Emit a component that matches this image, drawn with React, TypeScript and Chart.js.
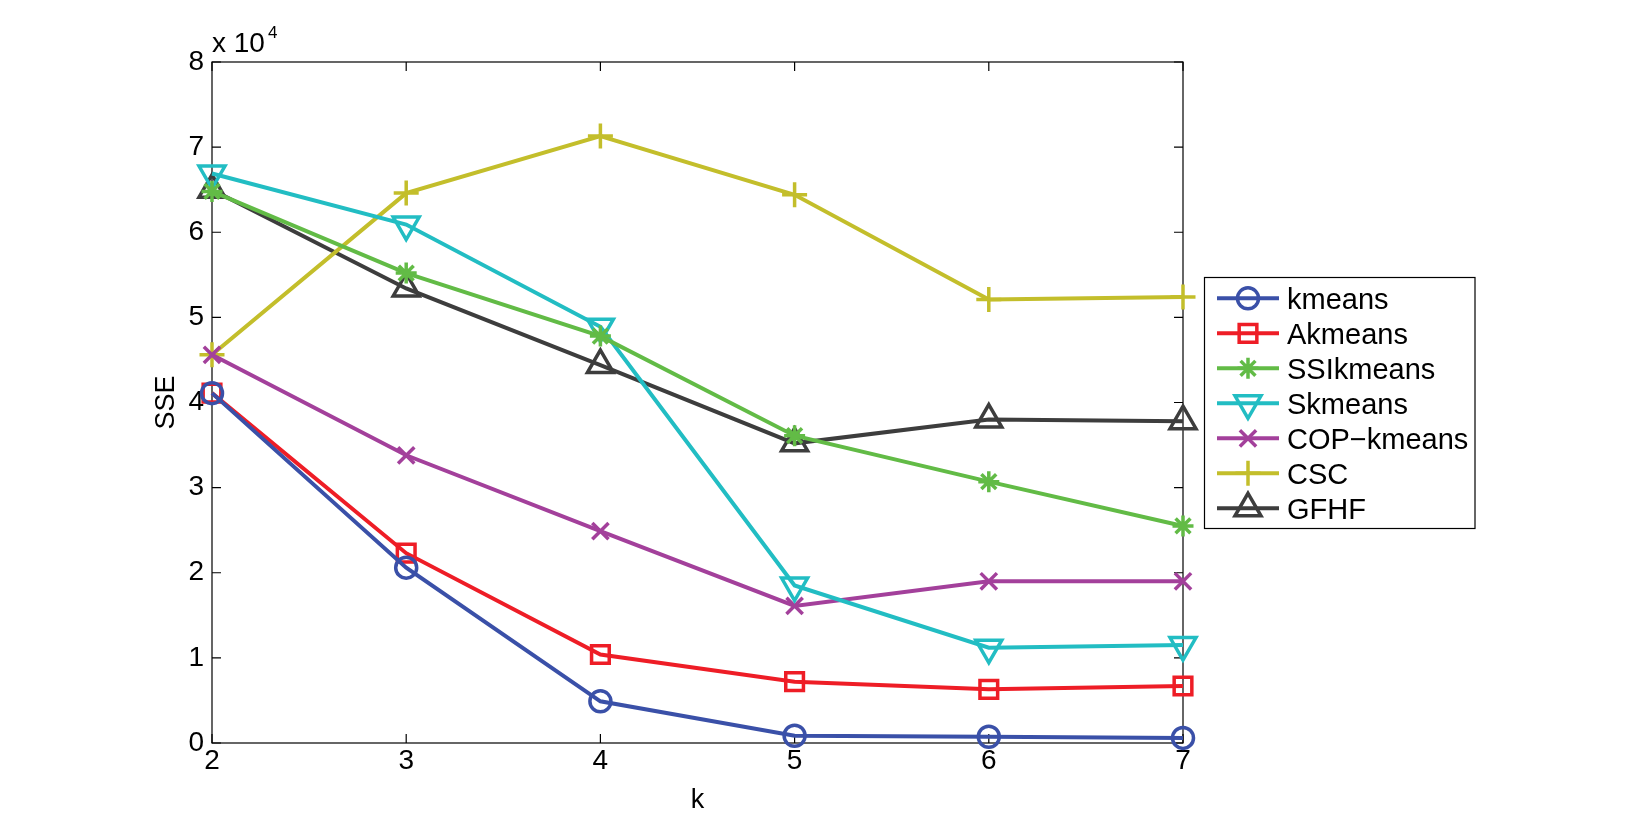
import React, { useEffect, useRef } from "react";
import { Chart, registerables } from "chart.js";

Chart.register(...registerables);

const categories = ["2", "3", "4", "5", "6", "7"];
const yTicks = [0, 10000, 20000, 30000, 40000, 50000, 60000, 70000, 80000];

const seriesNames = ["kmeans", "Akmeans", "SSIkmeans", "Skmeans", "COP\u2212kmeans", "CSC", "GFHF"];
const kmeans = [41100, 20600, 4900, 850, 730, 600];
const akmeans = [41100, 22300, 10400, 7200, 6300, 6700];
const ssikmeans = [64800, 55200, 47800, 36100, 30700, 25500];
const skmeans = [66900, 60900, 48900, 18500, 11200, 11500];
const copkmeans = [45600, 33800, 24900, 16100, 19000, 19000];
const csc = [45600, 64600, 71300, 64400, 52100, 52400];
const gfhf = [65000, 53400, 44400, 35200, 38000, 37800];

const seriesData = [kmeans, akmeans, ssikmeans, skmeans, copkmeans, csc, gfhf];
const seriesColors = ["#3A50A8", "#EE1D26", "#62BB46", "#22BDC3", "#A3409B", "#C3BE2B", "#3D3D3D"];
const seriesStyles = ["circle", "rect", "star", "triangle", "crossRot", "cross", "triangle"];
const seriesRotation = [0, 0, 0, 180, 0, 0, 0];
const seriesRadius = [10.5, 12.5, 10.5, 15, 11.5, 12.5, 15];

const FONT = "'Liberation Sans', Arial, Helvetica, sans-serif";

function drawMarker(ctx: CanvasRenderingContext2D, style: string, x: number, y: number, r: number, rot: number) {
  ctx.beginPath();
  const rad = (rot * Math.PI) / 180;
  if (style === "circle") {
    ctx.arc(x, y, r, 0, Math.PI * 2);
    ctx.closePath();
  } else if (style === "rect") {
    const s = Math.SQRT1_2 * r;
    ctx.rect(x - s, y - s, 2 * s, 2 * s);
  } else if (style === "triangle") {
    let a = rad;
    ctx.moveTo(x + Math.sin(a) * r, y - Math.cos(a) * r);
    a += (2 * Math.PI) / 3;
    ctx.lineTo(x + Math.sin(a) * r, y - Math.cos(a) * r);
    a += (2 * Math.PI) / 3;
    ctx.lineTo(x + Math.sin(a) * r, y - Math.cos(a) * r);
    ctx.closePath();
  } else if (style === "cross") {
    ctx.moveTo(x, y - r);
    ctx.lineTo(x, y + r);
    ctx.moveTo(x - r, y);
    ctx.lineTo(x + r, y);
  } else if (style === "crossRot") {
    const o = Math.SQRT1_2 * r;
    ctx.moveTo(x - o, y - o);
    ctx.lineTo(x + o, y + o);
    ctx.moveTo(x - o, y + o);
    ctx.lineTo(x + o, y - o);
  } else if (style === "star") {
    ctx.moveTo(x, y - r);
    ctx.lineTo(x, y + r);
    ctx.moveTo(x - r, y);
    ctx.lineTo(x + r, y);
    const o = Math.SQRT1_2 * r;
    ctx.moveTo(x - o, y - o);
    ctx.lineTo(x + o, y + o);
    ctx.moveTo(x - o, y + o);
    ctx.lineTo(x + o, y - o);
  }
  ctx.stroke();
}

const framePlugin = {
  id: "matlabFrame",
  beforeDatasetsDraw(chart: any) {
    const ctx = chart.ctx as CanvasRenderingContext2D;
    const { left, right, top, bottom } = chart.chartArea;
    const xs = chart.scales.x;
    const ys = chart.scales.y;
    ctx.save();
    ctx.strokeStyle = "#000";
    ctx.lineWidth = 1.2;
    ctx.strokeRect(left, top, right - left, bottom - top);
    const tl = 9;
    ctx.beginPath();
    for (let i = 0; i < categories.length; i++) {
      const px = xs.getPixelForValue(i);
      ctx.moveTo(px, bottom);
      ctx.lineTo(px, bottom - tl);
      ctx.moveTo(px, top);
      ctx.lineTo(px, top + tl);
    }
    for (const v of yTicks) {
      const py = ys.getPixelForValue(v);
      ctx.moveTo(left, py);
      ctx.lineTo(left + tl, py);
      ctx.moveTo(right, py);
      ctx.lineTo(right - tl, py);
    }
    ctx.stroke();
    ctx.restore();
  },
  afterDraw(chart: any) {
    const ctx = chart.ctx as CanvasRenderingContext2D;
    const { left, right, top, bottom } = chart.chartArea;
    ctx.save();
    ctx.fillStyle = "#000";
    // axis titles
    ctx.font = `27px ${FONT}`;
    ctx.textAlign = "center";
    ctx.textBaseline = "alphabetic";
    ctx.fillText("k", (left + right) / 2, 808);
    ctx.save();
    ctx.translate(174, (top + bottom) / 2);
    ctx.rotate(-Math.PI / 2);
    ctx.fillText("SSE", 0, 0);
    ctx.restore();
    // exponent
    ctx.textAlign = "left";
    ctx.font = `28px ${FONT}`;
    ctx.fillText("x 10", 212, 52);
    ctx.font = `17px ${FONT}`;
    ctx.fillText("4", 268, 38);
    // legend
    const bx = 1204.5, by = 277.5, bw = 270.5, bh = 251;
    ctx.fillStyle = "#fff";
    ctx.fillRect(bx, by, bw, bh);
    ctx.strokeStyle = "#000";
    ctx.lineWidth = 1.2;
    ctx.strokeRect(bx, by, bw, bh);
    ctx.font = `29px ${FONT}`;
    ctx.textBaseline = "alphabetic";
    for (let i = 0; i < seriesNames.length; i++) {
      const cy = 298.3 + i * 35;
      ctx.strokeStyle = seriesColors[i];
      ctx.lineWidth = 4;
      ctx.beginPath();
      ctx.moveTo(1217, cy);
      ctx.lineTo(1279, cy);
      ctx.stroke();
      ctx.lineWidth = 3.5;
      drawMarker(ctx, seriesStyles[i], 1248, cy, seriesRadius[i], seriesRotation[i]);
      ctx.fillStyle = "#000";
      ctx.fillText(seriesNames[i], 1287, cy + 11);
    }
    ctx.restore();
  },
};

export default function App() {
  const ref = useRef<HTMLCanvasElement | null>(null);
  useEffect(() => {
    document.body.style.margin = "0";
    const canvas = ref.current!;
    const chart = new Chart(canvas, {
      type: "line",
      data: {
        labels: categories,
        datasets: seriesData.map((d, i) => ({
          label: seriesNames[i],
          data: d,
          borderColor: seriesColors[i],
          backgroundColor: "rgba(0,0,0,0)",
          borderWidth: 4,
          pointStyle: seriesStyles[i] as any,
          pointRotation: seriesRotation[i],
          pointRadius: seriesRadius[i],
          pointBorderWidth: 3.5,
          pointBorderColor: seriesColors[i],
          pointBackgroundColor: "rgba(0,0,0,0)",
          tension: 0,
          clip: false as any,
        })),
      },
      options: {
        responsive: false,
        animation: false,
        devicePixelRatio: 1,
        layout: { padding: { left: 0, top: 62, right: 451, bottom: 0 } },
        plugins: { legend: { display: false }, tooltip: { enabled: false } },
        scales: {
          x: {
            type: "category",
            offset: false,
            grid: { display: false, drawTicks: false },
            border: { display: false },
            ticks: { color: "#000", font: { family: FONT, size: 28 }, padding: 1, maxRotation: 0, autoSkip: false },
            afterFit: (s: any) => { s.height = 95; },
          },
          y: {
            min: 0,
            max: 80000,
            grid: { display: false, drawTicks: false },
            border: { display: false },
            ticks: {
              color: "#000",
              stepSize: 10000,
              font: { family: FONT, size: 28 },
              padding: 8,
              callback: (v: any) => String(Number(v) / 10000),
            },
            afterFit: (s: any) => { s.width = 212; },
          },
        },
      },
      plugins: [framePlugin],
    });
    return () => chart.destroy();
  }, []);
  return (
    <div style={{ position: "absolute", left: 0, top: 0, width: 1634, height: 838, background: "#fff" }}>
      <canvas ref={ref} width={1634} height={838} style={{ display: "block", width: 1634, height: 838 }} />
    </div>
  );
}
